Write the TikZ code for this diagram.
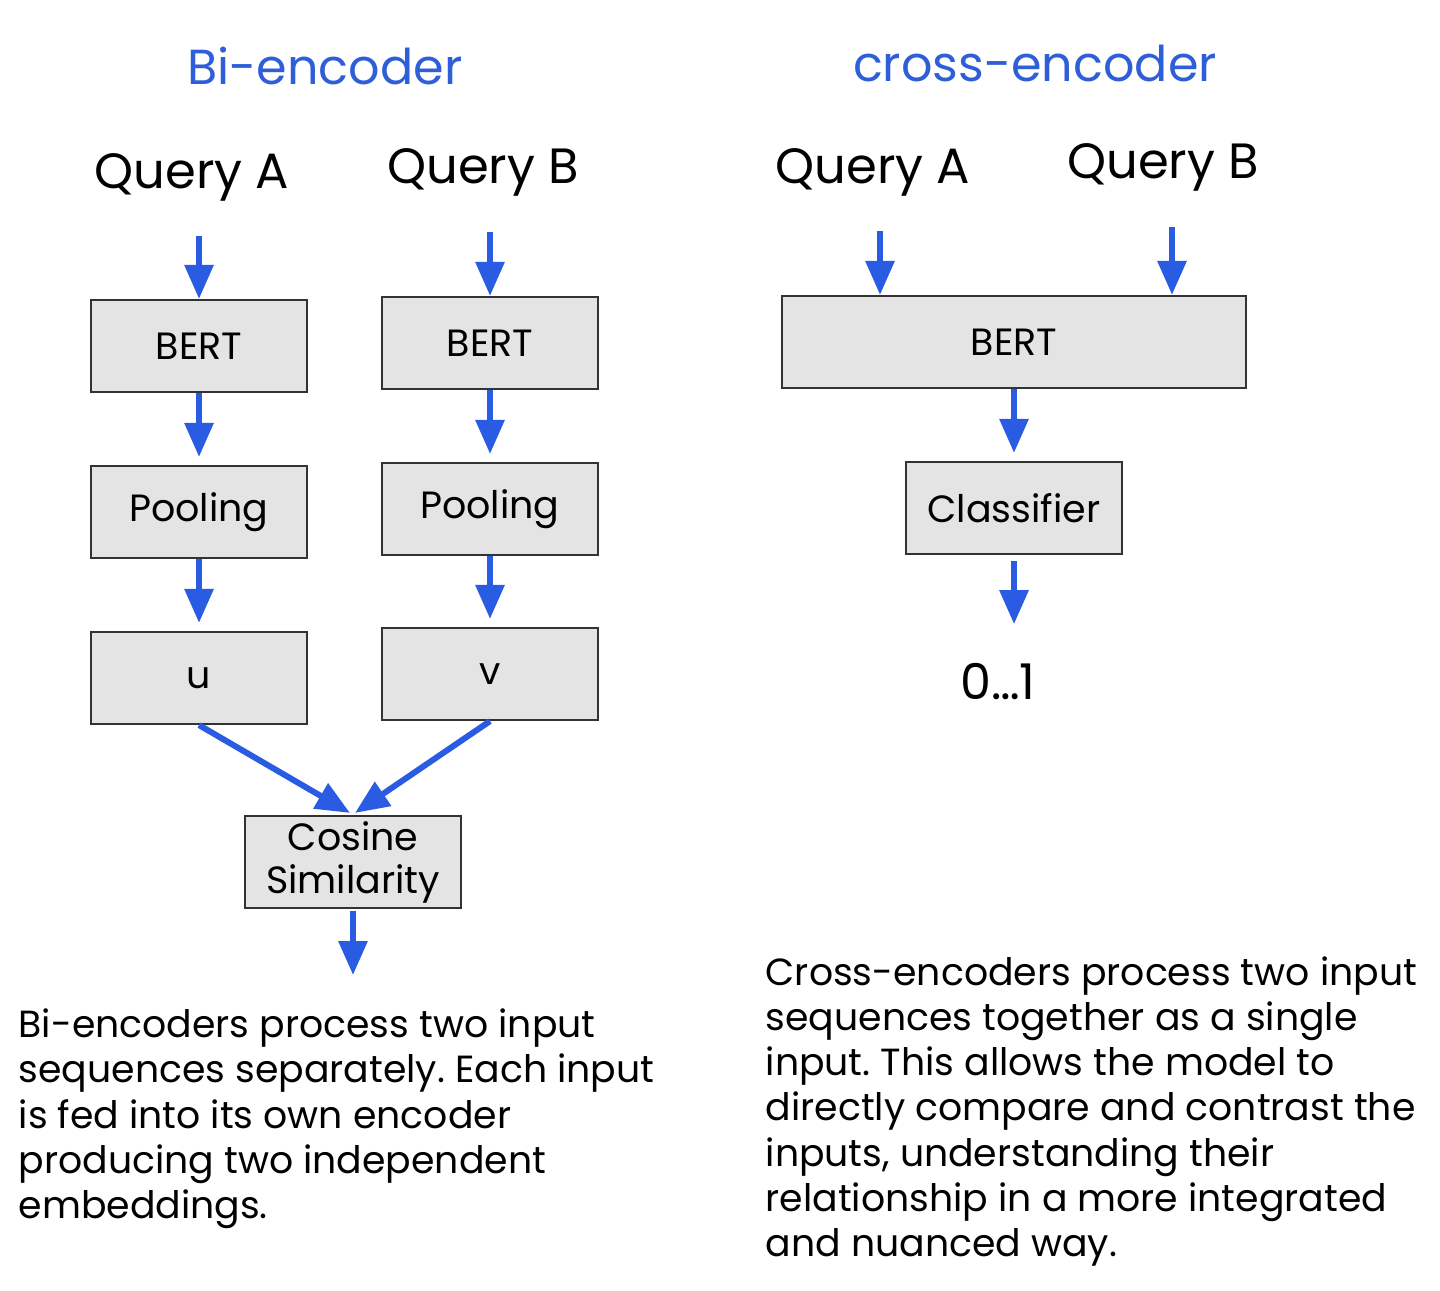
\documentclass[tikz,border=0pt]{standalone}
\usepackage{fontspec}
\setmainfont{Poppins}
\usepackage{tikz}
\usetikzlibrary{positioning,arrows.meta}
\definecolor{arrblue}{HTML}{2A5BE3}
\definecolor{titleblue}{HTML}{2E5FD8}
\definecolor{boxgray}{HTML}{E4E4E4}
\frenchspacing

\begin{document}
\begin{tikzpicture}[x=0.01cm,y=-0.01cm]
          %% BI vs CROSS
          \useasboundingbox (0,0) rectangle (1440,1290);

          \tikzstyle{box}=[draw=black!80,fill=boxgray,line width=0.6pt,minimum width=2.16cm,minimum height=0.92cm,inner sep=0pt,font=\fontsize{10.8}{12.3}\selectfont]
          \tikzstyle{arr}=[-{Triangle[length=0.34cm,width=0.28cm]},draw=arrblue,line width=1.7pt]
          \tikzstyle{query}=[inner sep=0pt,anchor=base,font=\fontsize{14.1}{17}\selectfont]
          \tikzstyle{title}=[inner sep=0pt,anchor=base,text=titleblue,font=\fontsize{14}{17}\selectfont]
          \tikzstyle{para}=[inner sep=0pt,anchor=base west,align=left]

          \node[title] (tbi) at (325,84) {Bi-encoder};
          \node[title] (tcross) at (1035,81) {cross-encoder};

          % bi-encoder, colonne A
          \node[query] (qA) at (192,188) {Query A};
          \node[box] (bertA) at (199,346) {BERT};
          \node[box] (poolA) at (199,512) {Pooling};
          \node[box] (uA) at (199,678) {u};

          % bi-encoder, colonne B
          \node[query] (qB) at (483,183) {Query B};
          \node[box] (bertB) at (490,343) {BERT};
          \node[box] (poolB) at (490,509) {Pooling};
          \node[box] (vB) at (490,674) {v};

          \node[box,align=center,font=\fontsize{10.8}{12.2}\selectfont] (cos) at (353,862) {Cosine\\Similarity};
          \coordinate (out) at (353,975);

          \draw[arr,shorten <=0.34cm] (bertA.north |- qA.south) -- (bertA.north);
          \draw[arr,shorten >=0.08cm] (bertA.south) -- (poolA.north);
          \draw[arr,shorten >=0.08cm] (poolA.south) -- (uA.north);
          \draw[arr,shorten <=0.35cm] (bertB.north |- qB.south) -- (bertB.north);
          \draw[arr,shorten >=0.08cm] (bertB.south) -- (poolB.north);
          \draw[arr,shorten >=0.08cm] (poolB.south) -- (vB.north);
          \draw[arr] (uA.south) -- ([xshift=-0.03cm,yshift=0.02cm]cos.north);
          \draw[arr] (vB.south) -- ([xshift=0.02cm,yshift=0.02cm]cos.north);
          \draw[arr,shorten <=0.02cm] (cos.south) -- (out);

          % cross-encoder
          \node[query] (qA2) at (873,183) {Query A};
          \node[query] (qB2) at (1163,178) {Query B};
          \coordinate (inA) at (880,231);
          \coordinate (inB) at (1172,227);
          \node[box,minimum width=4.64cm] (bertX) at (1014,342) {BERT};
          \node[box] (cls) at (1014,508) {Classifier};
          \node[query,font=\fontsize{14}{17}\selectfont] (res) at (998,699) {0…1};

          \draw[arr] (inA) -- (inA |- bertX.north);
          \draw[arr] (inB) -- (inB |- bertX.north);
          \draw[arr,shorten >=0.08cm] (bertX.south) -- (cls.north);
          \draw[arr,shorten <=0.06cm,shorten >=0.38cm] (cls.south) -- (cls.south |- res.north);

          % textes
          \node[para,font=\fontsize{10.75}{12.8}\selectfont] (txtbi) at (18,1218) {Bi-encoders process two input\\sequences separately. Each input\\is fed into its own encoder\\producing two independent\\embeddings.};
          \node[para,font=\fontsize{10.75}{12.8}\selectfont] (txtcross) at (765,1256) {Cross-encoders process two input\\sequences together as a single\\input. This allows the model to\\directly compare and contrast the\\inputs, understanding their\\relationship in a more integrated\\and nuanced way.};
\end{tikzpicture}
\end{document}
